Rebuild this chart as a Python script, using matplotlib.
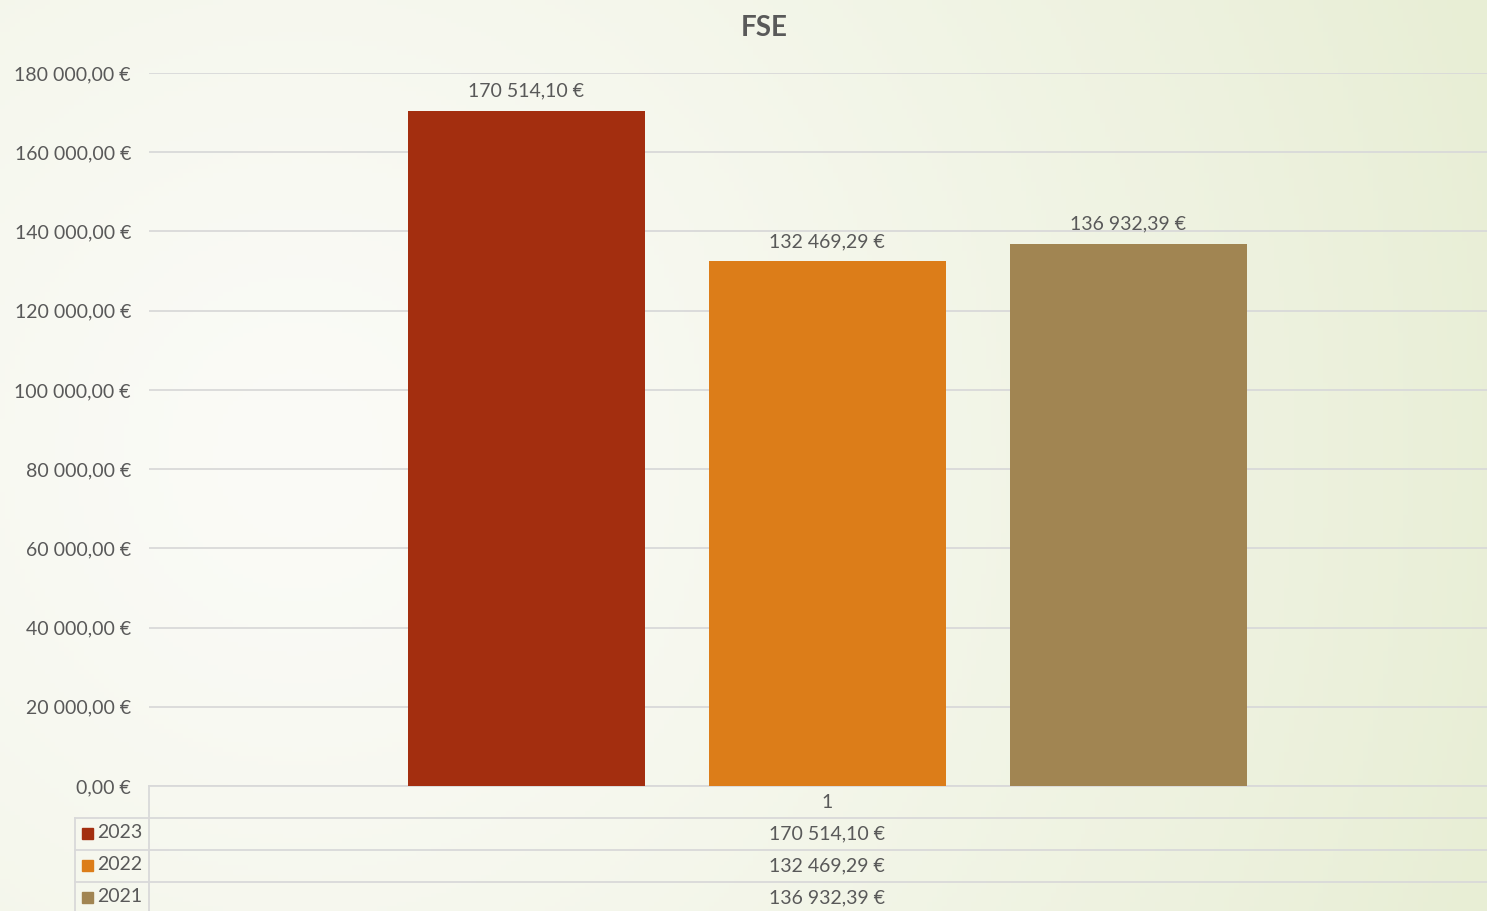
import numpy as np
import matplotlib.pyplot as plt
from matplotlib.lines import Line2D
from matplotlib.patches import Rectangle
from matplotlib.colors import to_rgb
from matplotlib.transforms import blended_transform_factory

title = "FSE"
category = "1"
years = ["2023", "2022", "2021"]
values = [170514.10, 132469.29, 136932.39]
colors = ["#a32e0f", "#dc7d19", "#a18552"]
y_ticks = [0, 20000, 40000, 60000, 80000, 100000, 120000, 140000, 160000, 180000]

text_color = "#595959"
line_color = "#d9d9d9"
plt.rcParams['font.family'] = ['Lato', 'DejaVu Sans']


def euro(v):
    s = f"{v:,.2f}".replace(",", " ").replace(".", ",")
    return s + " €"


W, H = 1487, 911
fig = plt.figure(figsize=(W / 100, H / 100), dpi=100)


def fx(px):
    return px / W


def fy(py):
    return 1 - py / H


# background gradient
bg = fig.add_axes([0, 0, 1, 1], zorder=-10)
gx, gy = np.meshgrid(np.linspace(0, 1, 300), np.linspace(0, 1, 200))
d = np.sqrt(((gx - 0.2) * 1.0) ** 2 + ((gy - 0.5) * 0.6) ** 2)
t = np.clip(d / 0.85, 0, 1) ** 1.3
c0 = np.array(to_rgb("#fbfbf7"))
c1 = np.array(to_rgb("#e8eed5"))
img = c0[None, None, :] * (1 - t[..., None]) + c1[None, None, :] * t[..., None]
bg.imshow(img, aspect="auto", extent=[0, 1, 0, 1], origin="upper")
bg.axis("off")

left, right, top, bottom = 149, 1487, 73, 786
ax = fig.add_axes([fx(left), fy(bottom), fx(right - left), fy(top) - fy(bottom)])
ax.patch.set_alpha(0)

width = 0.177
step = 0.225
offsets = (np.arange(len(values)) - (len(values) - 1) / 2) * step
bars = ax.bar(offsets, values, width=width, color=colors, zorder=3)
for b, v in zip(bars, values):
    ax.annotate(euro(v), (b.get_x() + b.get_width() / 2, v), xytext=(0, 8),
                textcoords="offset points", ha="center", va="bottom",
                fontsize=14, color=text_color)

ax.set_xlim(-0.507, 0.493)
ax.set_ylim(0, 180000)
ax.set_yticks(y_ticks)
ax.set_yticklabels([euro(v) for v in y_ticks])
ax.tick_params(axis="y", length=0, pad=13, labelsize=14, labelcolor=text_color)
ax.set_xticks([])
ax.grid(axis="y", color=line_color, linewidth=1.3, zorder=0)
for s in ["top", "right", "left"]:
    ax.spines[s].set_visible(False)
ax.spines["bottom"].set_color(line_color)
ax.spines["bottom"].set_linewidth(1.3)

fig.text(0.514, fy(28), title, ha="center", va="center", fontsize=20,
         fontweight="bold", color=text_color)

# data table under the axis
rows = [786, 818, 850, 882, 914]
lw = 1.3
for r in rows[1:4]:
    fig.add_artist(Line2D([fx(75), 1], [fy(r), fy(r)], transform=fig.transFigure,
                          color=line_color, lw=lw))
fig.add_artist(Line2D([fx(left), fx(left)], [fy(786), 0], transform=fig.transFigure,
                      color=line_color, lw=lw))
fig.add_artist(Line2D([fx(75), fx(75)], [fy(818), 0], transform=fig.transFigure,
                      color=line_color, lw=lw))

tr = blended_transform_factory(ax.transData, fig.transFigure)
fig.text(0, fy((rows[0] + rows[1]) / 2), category, transform=tr, ha="center",
         va="center", fontsize=14, color=text_color)
for i, (yr, v, c) in enumerate(zip(years, values, colors)):
    yc = (rows[i + 1] + rows[i + 2]) / 2
    fig.text(0, fy(yc), euro(v), transform=tr, ha="center", va="center",
             fontsize=14, color=text_color)
    fig.add_artist(Rectangle((fx(82), fy(yc + 5)), fx(11), fy(yc - 6) - fy(yc + 5),
                             transform=fig.transFigure, color=c))
    fig.text(fx(97), fy(yc - 1), yr, ha="left", va="center", fontsize=14,
             color=text_color)

plt.savefig("out.png", dpi=100)
